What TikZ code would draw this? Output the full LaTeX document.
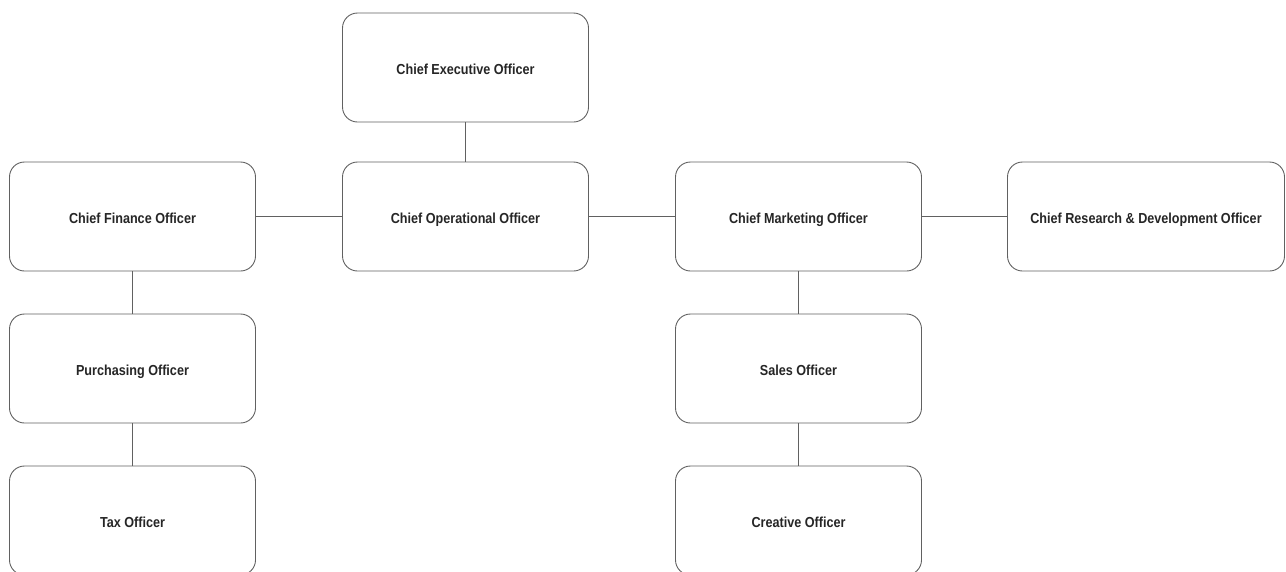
\documentclass[tikz,border=0pt]{standalone}
\usepackage{fontspec}
\setmainfont{Liberation Sans}
\newfontfamily\officerfont[FakeStretch=0.87]{Liberation Sans}
\tikzset{
  officer/.style={draw=black!62, line width=0.9pt, rounded corners=15pt, fill=white,
    minimum width=246pt, minimum height=109pt, inner sep=0pt,
    text height=14.5pt, text depth=1.1pt,
    font=\officerfont\fontsize{14.5}{17}\selectfont\bfseries, text=black!85},
  link/.style={draw=black!62, line width=0.9pt}
}
\begin{document}
\begin{tikzpicture}[x=1pt, y=-1pt]
          \useasboundingbox[fill=white] (0,0) rectangle (1286,571);
          \node[officer] (ceo) at (465.5, 67.5) {Chief Executive Officer};
          \node[officer] (coo) at (465.5, 216.5) {Chief Operational Officer};
          \node[officer] (cfo) at (132.5, 216.5) {Chief Finance Officer};
          \node[officer] (cmo) at (798.5, 216.5) {Chief Marketing Officer};
          \node[officer, minimum width=277pt] (crdo) at (1146, 216.5) {Chief Research \& Development Officer};
          \node[officer] (purchasing) at (132.5, 368.5) {Purchasing Officer};
          \node[officer] (sales) at (798.5, 368.5) {Sales Officer};
          \node[officer] (tax) at (132.5, 520.5) {Tax Officer};
          \node[officer] (creative) at (798.5, 520.5) {Creative Officer};
          \foreach \a/\b in {ceo/coo, cfo/purchasing, purchasing/tax, cmo/sales, sales/creative}{
              \draw [link] (\a.south) -- (\b.north);
          }
          \foreach \a/\b in {cfo/coo, coo/cmo, cmo/crdo}{
              \draw [link] (\a.east) -- (\b.west);
          }
      \end{tikzpicture}
\end{document}
